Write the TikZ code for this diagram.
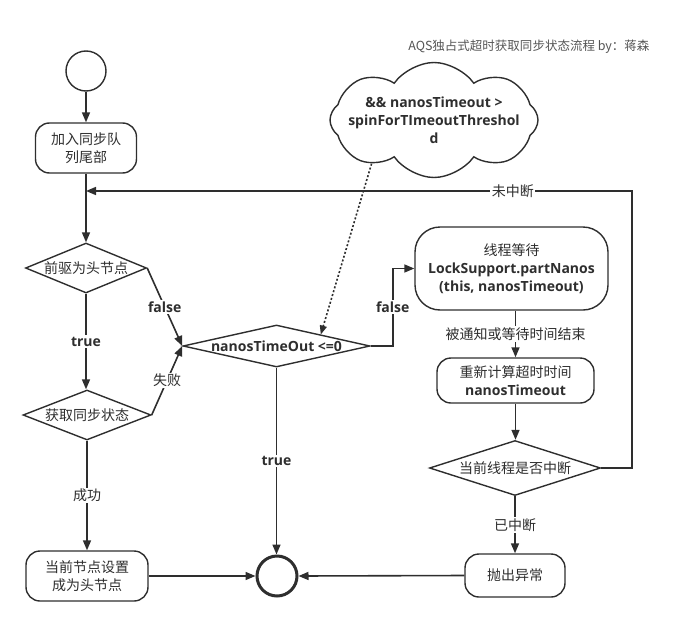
\documentclass[tikz,border=0pt]{standalone}
\usepackage{fontspec}
\setmainfont{Noto Sans CJK SC}
\newfontfamily\lat{Open Sans}
\usetikzlibrary{shapes.geometric,shapes.symbols,arrows.meta,calc}
\definecolor{ink}{HTML}{2E2E2E}
\definecolor{ttl}{HTML}{555555}
\begin{document}
\begin{tikzpicture}[x=1pt,y=-1pt,
  font=\fontsize{14}{18}\selectfont, text=ink,
  line/.style={draw=ink, line width=1.6pt},
  arr/.style={line, -{Triangle[length=10pt,width=8pt]}},
  rbox/.style={draw=ink, line width=1.4pt, rounded corners=14pt, align=center, inner sep=0pt},
  dia/.style={diamond, draw=ink, line width=1.4pt, inner sep=0pt},
  lbl/.style={fill=white, inner sep=1.5pt},
  B/.style={font=\fontsize{14}{18}\selectfont\lat\bfseries},
]
\useasboundingbox (0,0) rectangle (687,626);

% title
\node[anchor=east, font=\fontsize{12.5}{15}\selectfont, text=ttl] (title) at (653,47) {AQS独占式超时获取同步状态流程 by：蒋森};

% left column
\node[circle, draw=ink, line width=1.4pt, minimum size=40pt, inner sep=0pt] (start) at (86,71) {};
\node[rbox, minimum width=101pt, minimum height=50pt] (b1) at (86,148) {加入同步队\\列尾部};
\node[dia, minimum width=121pt, minimum height=50pt] (d1) at (86,268) {};
\node (d1t) at (d1) {前驱为头节点};
\node[dia, minimum width=128pt, minimum height=50pt] (d2) at (87,415) {};
\node (d2t) at (d2) {获取同步状态};
\node[rbox, minimum width=122pt, minimum height=50pt] (b2) at (87,576) {当前节点设置\\成为头节点};

% middle
\node[dia, minimum width=187pt, minimum height=42pt] (d3) at (276.5,346) {};
\node[B] (d3t) at (d3) {nanosTimeOut <=0};
\node[circle, draw=ink, line width=3pt, minimum size=40pt, inner sep=0pt] (end) at (277,576) {};

% cloud
\node[cloud, draw=ink, line width=1.4pt, cloud puffs=8, cloud puff arc=110, aspect=1.8, minimum width=208pt, minimum height=115pt, inner sep=0pt] (cl) at (434,120) {};
\node[B, align=center] (clt) at (434,120) {\&\& nanosTimeout >\\spinForTImeoutThreshol\\d};

% right column
\node[rbox, rounded corners=25pt, minimum width=193pt, minimum height=83pt] (b3) at (511.5,268.5) {线程等待\\{\lat\bfseries LockSupport.partNanos}\\{\lat\bfseries (this, nanosTimeout)}};
\node[rbox, minimum width=157pt, minimum height=45pt] (b4) at (515.5,380.5) {重新计算超时时间\\{\lat\bfseries nanosTimeout}};
\node[dia, minimum width=171pt, minimum height=55pt] (d4) at (515,468) {};
\node (d4t) at (d4) {当前线程是否中断};
\node[rbox, minimum width=100pt, minimum height=43pt] (b5) at (515,575.5) {抛出异常};

% connectors
\coordinate (rt) at (632,191);
\coordinate (d3in) at ($(d3.north)!0.47!(d3.east)$);

\draw[arr] (start) -- (b1);
\draw[arr] (b1) -- (d1);
\draw[arr] (d4.east) -| (rt) -- node[lbl, pos=0.218] {未中断} (b1.south |- rt);
\draw[arr] (d1.east) -- node[lbl, B] {false} (d3.west);
\draw[arr] (d1.south) -- node[lbl, B] {true} (d1.south |- d2.north);
\draw[arr] (d2.east) -- node[lbl] {失败} (d3.west);
\draw[arr] (d2.south) -- node[lbl] {成功} (d2.south |- b2.north);
\draw[arr] (b2.east) -- (end.west);
\draw[arr] (d3.south) -- node[lbl, B] {true} (d3.south |- end.north);
\draw[arr] (d3.east) -- ++(22,0) |- node[lbl, B, pos=0.25] {false} (b3.west);
\draw[arr] (b3.south -| b4.north) -- node[lbl] {被通知或等待时间结束} (b4.north);
\draw[arr] (b4.south) -- (b4.south |- d4.north);
\draw[arr] (d4.south) -- node[lbl] {已中断} (d4.south |- b5.north);
\draw[arr] (b5.west) -- (end.east);
\draw[line, dash pattern=on 2pt off 2pt, -{Triangle[length=9pt,width=7pt]}] (cl.215) -- (d3in);
\end{tikzpicture}
\end{document}
